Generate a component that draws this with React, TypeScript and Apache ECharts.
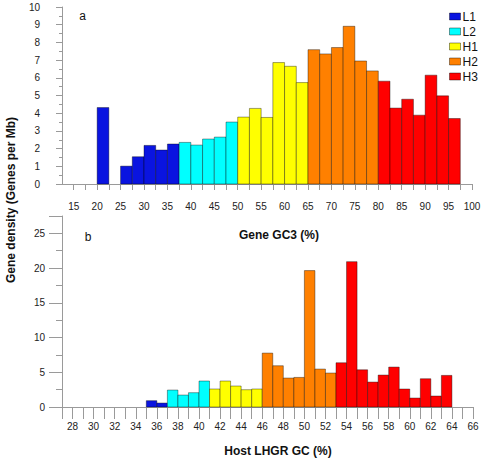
import React, { useEffect, useRef } from "react";
import * as echarts from "echarts";

const classNames = ["L1", "L2", "H1", "H2", "H3"];
const classColors = ["#0a14e0", "#00ffff", "#ffff00", "#ff8000", "#ff0000"];

// Panel a: gene density by Gene GC3 (%), bins 2.5 wide
const gc3BinWidth = 2.5;
const gc3BinStarts = [
  20, 25, 27.5, 30, 32.5, 35, 37.5, 40, 42.5, 45, 47.5, 50, 52.5, 55, 57.5, 60,
  62.5, 65, 67.5, 70, 72.5, 75, 77.5, 80, 82.5, 85, 87.5, 90, 92.5, 95,
];
const gc3Density = [
  4.32, 1.01, 1.54, 2.18, 1.92, 2.26, 2.35, 2.2, 2.54, 2.65, 3.5, 3.78, 4.27,
  3.76, 6.86, 6.65, 5.73, 7.59, 7.35, 7.71, 8.91, 6.95, 6.39, 5.81, 4.29, 4.79,
  3.89, 6.15, 4.98, 3.7,
];
const gc3Class = [
  "L1", "L1", "L1", "L1", "L1", "L1",
  "L2", "L2", "L2", "L2", "L2",
  "H1", "H1", "H1", "H1", "H1", "H1",
  "H2", "H2", "H2", "H2", "H2", "H2",
  "H3", "H3", "H3", "H3", "H3", "H3", "H3",
];
const gc3TickLabels = [15, 20, 25, 30, 35, 40, 45, 50, 55, 60, 65, 70, 75, 80, 85, 90, 95, 100];

// Panel b: gene density by Host LHGR GC (%), bins 1 wide
const lhgrBinWidth = 1;
const lhgrBinStarts = [
  35, 36, 37, 38, 39, 40, 41, 42, 43, 44, 45, 46, 47, 48, 49, 50, 51, 52, 53,
  54, 55, 56, 57, 58, 59, 60, 61, 62, 63,
];
const lhgrDensity = [
  0.91, 0.57, 2.44, 1.72, 2.06, 3.74, 2.59, 3.74, 3.02, 2.49, 2.59, 7.76, 5.94,
  4.17, 4.26, 19.64, 5.46, 4.89, 6.37, 20.93, 5.36, 3.59, 4.6, 5.75, 2.59, 1.29,
  4.07, 1.58, 4.55,
];
const lhgrClass = [
  "L1", "L1",
  "L2", "L2", "L2", "L2",
  "H1", "H1", "H1", "H1", "H1",
  "H2", "H2", "H2", "H2", "H2", "H2", "H2",
  "H3", "H3", "H3", "H3", "H3", "H3", "H3", "H3", "H3", "H3", "H3",
];
const lhgrTickLabels = [28, 30, 32, 34, 36, 38, 40, 42, 44, 46, 48, 50, 52, 54, 56, 58, 60, 62, 64, 66];

const FONT = "'Liberation Sans', Arial, sans-serif";

function renderBin(params: any, api: any) {
  const start = api.value(0);
  const end = api.value(1);
  const v = api.value(2);
  const p1 = api.coord([start, v]);
  const p2 = api.coord([end, 0]);
  return {
    type: "rect",
    shape: { x: p1[0], y: p1[1], width: p2[0] - p1[0], height: p2[1] - p1[1] },
    style: { fill: api.visual("color"), stroke: "rgba(0,0,0,0.38)", lineWidth: 1 },
  };
}

function buildSeries(
  starts: number[],
  values: number[],
  cls: string[],
  width: number,
  axisIndex: number
) {
  return classNames.map((name, ci) => ({
    type: "custom",
    name,
    xAxisIndex: axisIndex,
    yAxisIndex: axisIndex,
    renderItem: renderBin,
    itemStyle: { color: classColors[ci] },
    encode: { x: [0, 1], y: 2 },
    data: starts
      .map((s, i) => (cls[i] === name ? [s, s + width, values[i]] : null))
      .filter((d) => d !== null),
  }));
}

export default function App() {
  const ref = useRef<HTMLDivElement>(null);
  useEffect(() => {
    if (!ref.current) return;
    const chart = echarts.init(ref.current, null, { renderer: "svg" });
    const axisGray = "#9a9a9a";
    const labelStyle = { color: "#222", fontFamily: FONT, fontSize: 10 };
    const option: any = {
      animation: false,
      backgroundColor: "#ffffff",
      grid: [
        { left: 62, top: 7, width: 410, height: 177 },
        { left: 62, top: 216, width: 411, height: 191 },
      ],
      xAxis: [
        {
          type: "value",
          gridIndex: 0,
          min: 12.5,
          max: 100,
          interval: 2.5,
          splitLine: { show: false },
          axisLine: { lineStyle: { color: axisGray } },
          axisTick: { length: 6, lineStyle: { color: axisGray } },
          axisLabel: {
            ...labelStyle,
            margin: 17.5,
            showMinLabel: false,
            formatter: (v: number) => (gc3TickLabels.includes(v) ? String(v) : ""),
          },
        },
        {
          type: "value",
          gridIndex: 1,
          min: 27,
          max: 66,
          interval: 1,
          splitLine: { show: false },
          axisLine: { lineStyle: { color: axisGray } },
          axisTick: { length: 12, lineStyle: { color: axisGray } },
          axisLabel: {
            ...labelStyle,
            margin: 14.5,
            formatter: (v: number) => (lhgrTickLabels.includes(v) ? String(v) : ""),
          },
        },
      ],
      yAxis: [
        {
          type: "value",
          gridIndex: 0,
          min: 0,
          max: 10,
          interval: 1,
          splitLine: { show: false },
          axisLine: { show: true, lineStyle: { color: axisGray } },
          axisTick: { show: true, length: 6, lineStyle: { color: axisGray } },
          minorTick: { show: true, splitNumber: 2, length: 3, lineStyle: { color: axisGray } },
          axisLabel: { ...labelStyle, margin: 22 },
        },
        {
          type: "value",
          gridIndex: 1,
          min: 0,
          max: 27.5,
          interval: 5,
          splitLine: { show: false },
          axisLine: { show: true, lineStyle: { color: axisGray } },
          axisTick: { show: true, length: 13, lineStyle: { color: axisGray } },
          minorTick: { show: true, splitNumber: 2, length: 6, lineStyle: { color: axisGray } },
          axisLabel: { ...labelStyle, margin: 17, showMaxLabel: false },
        },
      ],
      legend: {
        data: classNames,
        orient: "vertical",
        left: 449,
        top: 10.5,
        icon: "rect",
        itemWidth: 11,
        itemHeight: 7,
        itemGap: 3,
        selectedMode: false,
        itemStyle: { borderColor: "rgba(0,0,0,0.4)", borderWidth: 1 },
        textStyle: { color: "#111", fontFamily: FONT, fontSize: 12, padding: [0, 0, 0, -3], lineHeight: 11.6 },
        padding: 0,
      },
      graphic: [
        {
          type: "text",
          x: 82.7,
          y: 16,
          style: { text: "a", font: `12px ${FONT}`, fill: "#111", align: "center", verticalAlign: "middle" },
        },
        {
          type: "text",
          x: 88,
          y: 237,
          style: { text: "b", font: `12px ${FONT}`, fill: "#111", align: "center", verticalAlign: "middle" },
        },
        {
          type: "text",
          x: 279,
          y: 234.5,
          style: { text: "Gene GC3 (%)", font: `bold 12px ${FONT}`, fill: "#111", align: "center", verticalAlign: "middle" },
        },
        {
          type: "text",
          x: 278,
          y: 450.5,
          style: { text: "Host LHGR GC (%)", font: `bold 12px ${FONT}`, fill: "#111", align: "center", verticalAlign: "middle" },
        },
        {
          type: "text",
          x: 11,
          y: 200,
          rotation: Math.PI / 2,
          style: {
            text: "Gene density (Genes per Mb)",
            font: `bold 12px ${FONT}`,
            fill: "#111",
            align: "center",
            verticalAlign: "middle",
          },
        },
      ],
      series: [
        ...buildSeries(gc3BinStarts, gc3Density, gc3Class, gc3BinWidth, 0),
        ...buildSeries(lhgrBinStarts, lhgrDensity, lhgrClass, lhgrBinWidth, 1),
      ],
    };
    chart.setOption(option);
    return () => chart.dispose();
  }, []);
  return (
    <div
      ref={ref}
      style={{ position: "absolute", left: 0, top: 0, width: 485, height: 460 }}
    />
  );
}
